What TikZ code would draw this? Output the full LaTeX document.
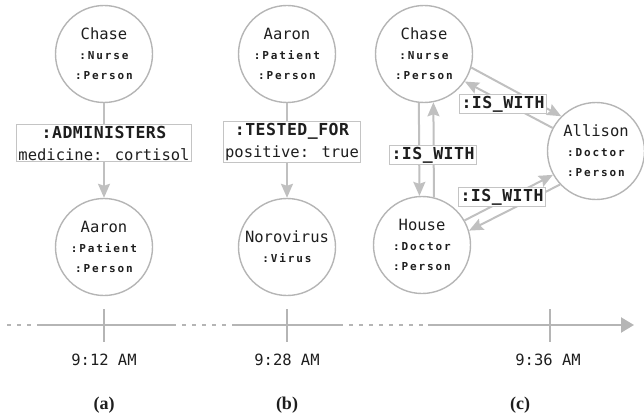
\documentclass[tikz,border=0pt]{standalone}
\usepackage{fontspec}
\usetikzlibrary{arrows.meta}
\newfontfamily\monofont{DejaVu Sans Mono}
\newfontfamily\monolbl[LetterSpace=17, BoldFeatures={LetterSpace=17}]{DejaVu Sans Mono}
\newfontfamily\monorel[LetterSpace=3, BoldFeatures={LetterSpace=3}]{DejaVu Sans Mono}
\newfontfamily\capfam{Liberation Serif}
\newcommand\nmfont{\monofont\mdseries\fontsize{15.5}{20}\selectfont}
\newcommand\lbfont{\monolbl\bfseries\fontsize{11}{20}\selectfont}
\newcommand\relfont{\monorel\bfseries\fontsize{16.5}{22}\selectfont}
\newcommand\capfont{\capfam\bfseries\fontsize{18}{20}\selectfont}
\definecolor{circ}{HTML}{B5B5B5}
\definecolor{edgec}{HTML}{C0C0C0}
\definecolor{txt}{HTML}{1E1E1E}
\tikzset{
  person/.style={circle, draw=circ, line width=1.4pt, minimum size=97pt, inner sep=0pt,
    align=center, font=\nmfont, text=txt},
  rel/.style={draw=edgec, line width=2pt, -{Stealth[length=14pt,width=12pt,inset=2pt]}},
  elabel/.style={draw=circ!80, line width=0.8pt, fill=white, inner xsep=2pt, inner ysep=1.5pt,
    align=center, font=\relfont, text=txt},
  tl/.style={draw=circ, line width=2.2pt},
  tldash/.style={tl, dash pattern=on 4pt off 6pt},
  timelbl/.style={font=\nmfont, text=txt},
  caplbl/.style={font=\capfont, text=txt}
}
\begin{document}
\begin{tikzpicture}[x=1pt,y=-1pt]
\useasboundingbox (0,0) rectangle (644,417);
% (a)
\node[person] (aC) at (104,54) {Chase\\{\lbfont :Nurse}\\{\lbfont :Person}};
\node[person] (aA) at (104,247) {Aaron\\{\lbfont :Patient}\\{\lbfont :Person}};
\draw[rel] (aC) -- (aA);
\node[elabel] (la) at (104,143) {:ADMINISTERS\\{\nmfont medicine: cortisol}};
% (b)
\node[person] (bA) at (287,54) {Aaron\\{\lbfont :Patient}\\{\lbfont :Person}};
\node[person] (bN) at (287,247) {Norovirus\\{\lbfont :Virus}};
\draw[rel] (bA) -- (bN);
\node[elabel] (lb) at (292,142) {:TESTED\_FOR\\{\nmfont positive: true}};
% (c)
\node[person] (cC) at (424,54) {Chase\\{\lbfont :Nurse}\\{\lbfont :Person}};
\node[person] (cA) at (596,151) {Allison\\{\lbfont :Doctor}\\{\lbfont :Person}};
\node[person] (cH) at (422,245) {House\\{\lbfont :Doctor}\\{\lbfont :Person}};
\draw[rel] (cC.264) -- (cH.93);
\draw[rel] (cH.76) -- (cC.281);
\draw[rel] (cC.-16) -- (cA.135);
\draw[rel] (cA.152) -- (cC.-34);
\draw[rel] (cH.30) -- (cA.209);
\draw[rel] (cA.223) -- (cH.17);
\node[elabel] (lc1) at (433,155) {:IS\_WITH};
\node[elabel] (lc2) at (503,104) {:IS\_WITH};
\node[elabel] (lc3) at (502,197) {:IS\_WITH};
% timeline
\coordinate (t0) at (7,325);
\coordinate (t1) at (37,325);
\coordinate (t2) at (172,325);
\coordinate (t3) at (235,325);
\coordinate (t4) at (339,325);
\coordinate (t5) at (428,325);
\coordinate (t6) at (634,325);
\draw[tldash] (t0) -- (t1);
\draw[tl] (t1) -- (t2);
\draw[tldash] (t2) -- (t3);
\draw[tl] (t3) -- (t4);
\draw[tldash] (t4) -- (t5);
\draw[tl, -{Triangle[length=13pt,width=15pt]}] (t5) -- (t6);
\coordinate (ka1) at (104,309); \coordinate (ka2) at (104,342);
\coordinate (kb1) at (287,309); \coordinate (kb2) at (287,342);
\coordinate (kc1) at (550,309); \coordinate (kc2) at (550,342);
\draw[tl] (ka1) -- (ka2);
\draw[tl] (kb1) -- (kb2);
\draw[tl] (kc1) -- (kc2);
\node[timelbl] (ta) at (104,360) {9:12 AM};
\node[timelbl] (tb) at (287,360) {9:28 AM};
\node[timelbl] (tc) at (548,360) {9:36 AM};
\node[caplbl] (ca) at (104,405) {(a)};
\node[caplbl] (cb) at (287,405) {(b)};
\node[caplbl] (cc) at (520,405) {(c)};
\end{tikzpicture}
\end{document}
